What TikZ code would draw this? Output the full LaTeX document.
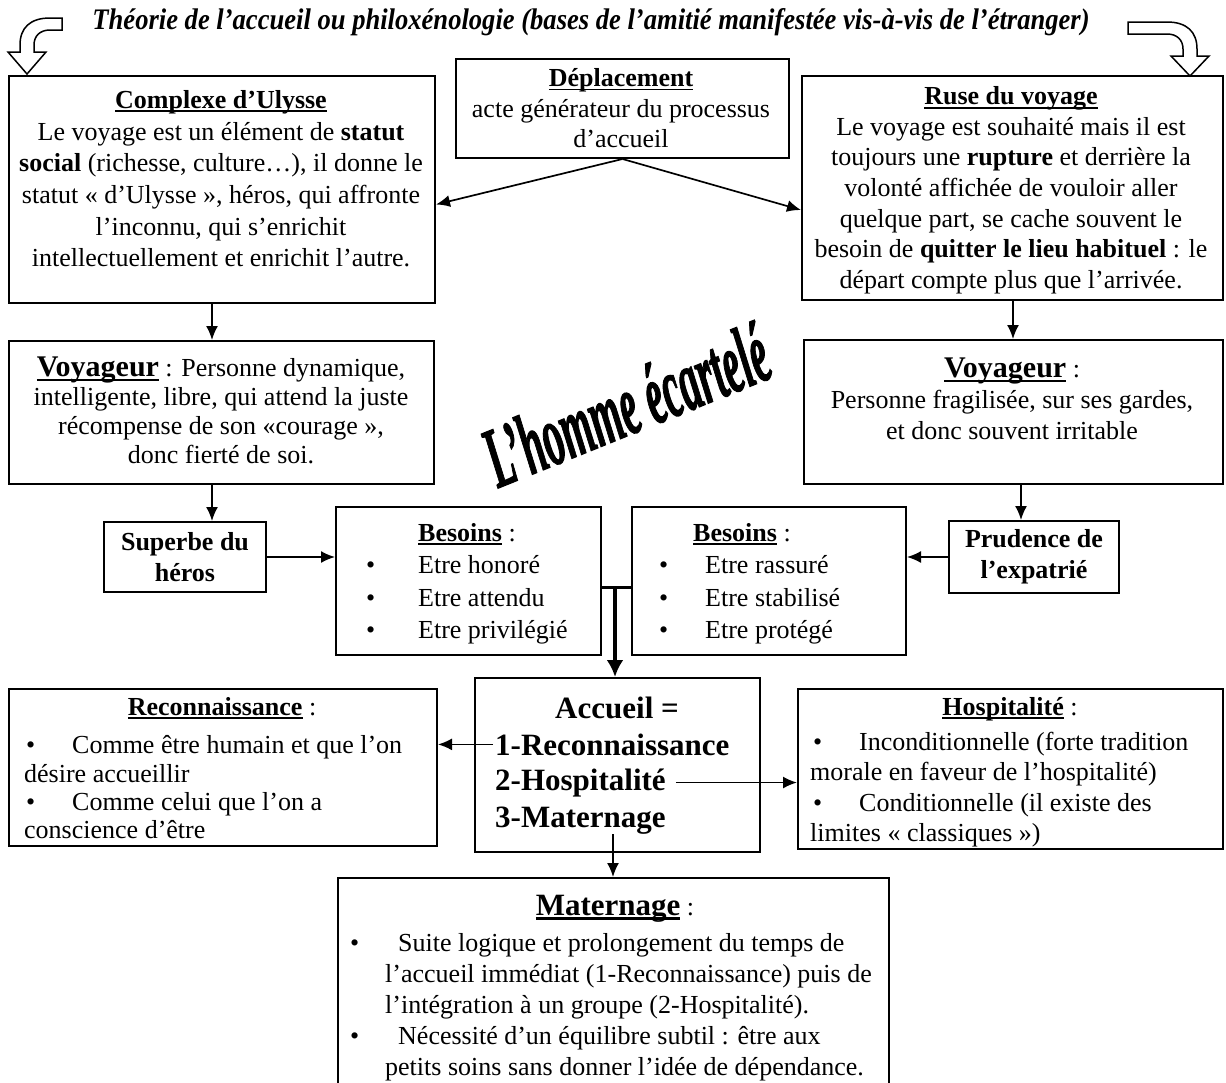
\documentclass[tikz,border=0pt]{standalone}
\usepackage{fontspec}
\setmainfont{Liberation Serif}
\newfontfamily\hommefont[FakeBold=1.6]{Liberation Serif}
\usetikzlibrary{arrows.meta}
\newcommand\ulbox[1]{\setbox0=\hbox{#1}\rlap{\rule[-0.15em]{\wd0}{0.07em}}\box0\relax}
\begin{document}
\begin{tikzpicture}[x=1pt,y=-1pt,
  frame/.style={draw, line width=2pt, inner sep=0pt, anchor=north west},
  txt/.style={inner sep=0pt, align=center, font=\fontsize{26}{31.5}\selectfont},
  ltxt/.style={inner sep=0pt, align=left, anchor=north west, font=\fontsize{26}{31.5}\selectfont},
  arr/.style={line width=1.7pt, -{Latex[length=14pt,width=12pt]}},
  bigarr/.style={line width=3.5pt, -{Latex[length=17pt,width=17pt]}},
  bent/.style={draw, line width=1.5pt, fill=white, line join=miter},
  big/.style={font=\fontsize{31}{31.5}\selectfont\bfseries}
]
\useasboundingbox (0,0) rectangle (1226,1082);
\fill[white] (0,0) rectangle (1226,1082);

% title and bent arrows
\node[inner sep=0pt, anchor=base] (title) at (591,29)
  {\resizebox{997pt}{21pt}{\fontsize{26}{26}\selectfont\bfseries\itshape Théorie de l’accueil ou philoxénologie (bases de l’amitié manifestée vis-à-vis de l’étranger)}};
\draw[bent] (62,18) -- (50,18) .. controls (30,18) and (20,28) .. (20,45) -- (20,52) -- (8,52) -- (27,74) -- (46,52) -- (34,52) -- (34,45) .. controls (34,36) and (40,30) .. (50,30) -- (62,30) -- cycle;
\draw[bent] (1128,22) -- (1167,22) .. controls (1187,22) and (1197,32) .. (1197,49) -- (1197,56) -- (1209,56) -- (1190,76) -- (1171,56) -- (1183,56) -- (1183,49) .. controls (1183,40) and (1177,34) .. (1167,34) -- (1128,34) -- cycle;

% frames
\node[frame, minimum width=426pt, minimum height=227pt] (cu) at (8,75) {};
\node[frame, minimum width=333pt, minimum height=99pt] (dep) at (455,58) {};
\node[frame, minimum width=421pt, minimum height=224pt] (ru) at (801,75) {};
\node[frame, minimum width=425pt, minimum height=143pt] (vl) at (8,340) {};
\node[frame, minimum width=419pt, minimum height=144pt] (vr) at (803,339) {};
\node[frame, minimum width=162pt, minimum height=70pt] (sup) at (103,521) {};
\node[frame, minimum width=265pt, minimum height=148pt] (bl) at (335,506) {};
\node[frame, minimum width=274pt, minimum height=148pt] (br) at (631,506) {};
\node[frame, minimum width=170pt, minimum height=72pt] (pru) at (948,520) {};
\node[frame, minimum width=428pt, minimum height=157pt] (rec) at (8,688) {};
\node[frame, minimum width=285pt, minimum height=174pt] (acc) at (474,677) {};
\node[frame, minimum width=425pt, minimum height=160pt] (hos) at (797,688) {};
\node[frame, minimum width=551pt, minimum height=260pt] (mat) at (337,877) {};

% texts
\node[txt, anchor=north, font=\fontsize{26}{31.7}\selectfont] (tcu) at (221,86) {\strut\ulbox{\textbf{Complexe d’Ulysse}}\\
Le voyage est un élément de \textbf{statut}\\
\textbf{social} (richesse, culture…), il donne le\\
statut « d’Ulysse », héros, qui affronte\\
l’inconnu, qui s’enrichit\\
intellectuellement et enrichit l’autre.};

\node[txt, anchor=north, font=\fontsize{26}{30.5}\selectfont] (tdep) at (621,65) {\strut\ulbox{\textbf{Déplacement}}\\
acte générateur du processus\\
d’accueil};

\node[txt, anchor=north, font=\fontsize{26}{30.6}\selectfont] (tru) at (1011,83) {\strut\ulbox{\textbf{Ruse du voyage}}\\
Le voyage est souhaité mais il est\\
toujours une \textbf{rupture} et derrière la\\
volonté affichée de vouloir aller\\
quelque part, se cache souvent le\\
besoin de \textbf{quitter le lieu habituel} : le\\
départ compte plus que l’arrivée.};

\node[txt, anchor=north, font=\fontsize{26}{29}\selectfont] (tvl) at (221,356) {\strut{\fontsize{30}{30}\selectfont\bfseries\ulbox{Voyageur}} : Personne dynamique,\\
intelligente, libre, qui attend la juste\\
récompense de son «courage »,\\
donc fierté de soi.};

\node[txt, anchor=north, font=\fontsize{26}{31}\selectfont] (tvr) at (1012,356) {\strut{\fontsize{30}{30}\selectfont\bfseries\ulbox{Voyageur}} :\\
Personne fragilisée, sur ses gardes,\\
et donc souvent irritable};

\node[txt, font=\fontsize{26}{31}\selectfont\bfseries] (tsup) at (sup.center) {Superbe du\\héros};
\node[txt, font=\fontsize{26}{31}\selectfont\bfseries] (tpru) at (pru.center) {Prudence de\\l’expatrié};

\node[txt, anchor=base] (tbl) at (467,541) {\ulbox{\textbf{Besoins}} :};
\node[ltxt, font=\fontsize{26}{32.5}\selectfont] (ibl) at (366,551) {\strut\makebox[52pt][l]{\textbullet}Etre honoré\\
\makebox[52pt][l]{\textbullet}Etre attendu\\
\makebox[52pt][l]{\textbullet}Etre privilégié};

\node[txt, anchor=base] (tbr) at (742,541) {\ulbox{\textbf{Besoins}} :};
\node[ltxt, font=\fontsize{26}{32.5}\selectfont] (ibr) at (659,551) {\strut\makebox[46pt][l]{\textbullet}Etre rassuré\\
\makebox[46pt][l]{\textbullet}Etre stabilisé\\
\makebox[46pt][l]{\textbullet}Etre protégé};

\node[txt, anchor=base] (trec) at (222,715) {\ulbox{\textbf{Reconnaissance}} :};
\node[ltxt, font=\fontsize{26}{28.2}\selectfont] (irec) at (24,734) {\strut\hspace*{2pt}\makebox[46pt][l]{\textbullet}Comme être humain et que l’on\\
désire accueillir\\
\hspace*{2pt}\makebox[46pt][l]{\textbullet}Comme celui que l’on a\\
conscience d’être};

\node[inner sep=0pt, anchor=base, big] (a0) at (617,718) {Accueil =};
\node[inner sep=2pt, anchor=base west, big] (r1) at (493,755) {1-Reconnaissance};
\node[inner sep=2pt, anchor=base west, big] (h2) at (493,790) {2-Hospitalité};
\node[inner sep=2pt, anchor=base west, big] (m3) at (493,827) {3-Maternage};

\node[txt, anchor=base] (thos) at (1010,715) {\ulbox{\textbf{Hospitalité}} :};
\node[ltxt, font=\fontsize{26}{30.3}\selectfont] (ihos) at (810,729) {\strut\hspace*{3pt}\makebox[46pt][l]{\textbullet}Inconditionnelle (forte tradition\\
morale en faveur de l’hospitalité)\\
\hspace*{3pt}\makebox[46pt][l]{\textbullet}Conditionnelle (il existe des\\
limites « classiques »)};

\node[txt, anchor=base] (tmat) at (615,915) {{\fontsize{31}{31}\selectfont\bfseries\ulbox{Maternage}} :};
\node[ltxt, font=\fontsize{26}{31}\selectfont] (imat) at (350,930) {\strut\makebox[48pt][l]{\textbullet}Suite logique et prolongement du temps de\\
\hspace*{35pt}l’accueil immédiat (1-Reconnaissance) puis de\\
\hspace*{35pt}l’intégration à un groupe (2-Hospitalité).\\
\makebox[48pt][l]{\textbullet}Nécessité d’un équilibre subtil : être aux\\
\hspace*{35pt}petits soins sans donner l’idée de dépendance.};

\node[inner sep=0pt, anchor=base, rotate=22] (homme) at (637,432)
  {\fontsize{86}{86}\hommefont\bfseries\itshape\scalebox{0.47}[1]{L’homme écartelé}};

% connectors
\coordinate (xL) at (212,0);
\coordinate (xR) at (1013,0);
\coordinate (xR2) at (1021,0);
\coordinate (xM) at (615,0);
\coordinate (xM2) at (613,0);
\coordinate (ybar) at (0,587);
\coordinate (ym3) at (0,834);

\draw[arr] (dep.south) -- ([yshift=-15pt]cu.east);
\draw[arr] (dep.south) -- ([yshift=-22pt]ru.west);
\draw[arr] (cu.south -| xL) -- (vl.north -| xL);
\draw[arr] (ru.south -| xR) -- (vr.north -| xR);
\draw[arr] (vl.south -| xL) -- (sup.north -| xL);
\draw[arr] (vr.south -| xR2) -- (pru.north -| xR2);
\draw[arr] (sup.east) -- (sup.east -| bl.west);
\draw[arr] (pru.west) -- (pru.west -| br.east);
\draw[line width=3pt] (bl.east |- ybar) -- (br.west |- ybar);
\draw[bigarr] (xM |- ybar) -- (acc.north -| xM);
\draw[arr] (r1.west) -- (r1.west -| rec.east);
\draw[arr] ([xshift=8pt]h2.east) -- (h2.east -| hos.west);
\draw[arr] (xM2 |- ym3) -- (mat.north -| xM2);
\end{tikzpicture}
\end{document}
